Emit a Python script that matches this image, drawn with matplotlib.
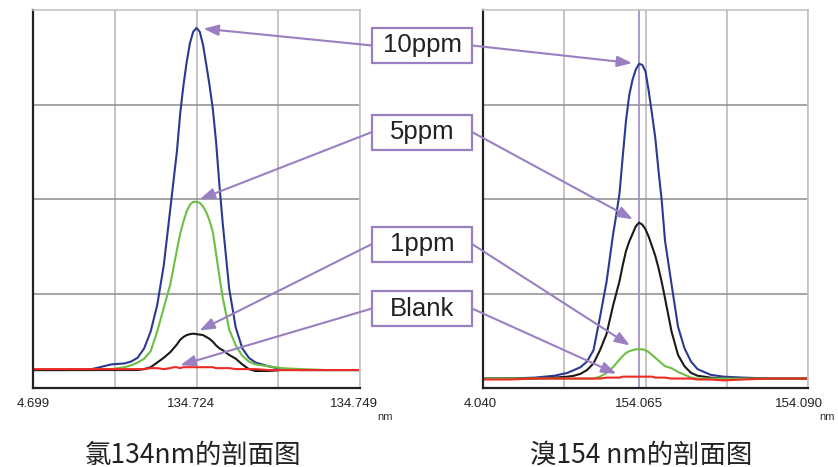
import matplotlib
matplotlib.use('Agg')
import matplotlib.pyplot as plt
from matplotlib.patches import Rectangle
from matplotlib.transforms import ScaledTranslation

plt.rcParams['font.family'] = ['Liberation Sans', 'Noto Sans CJK SC', 'DejaVu Sans']

# ---------------- Left panel: chlorine 134 nm ----------------
cl_x = [134.699, 134.704, 134.708, 134.711, 134.713, 134.714, 134.715, 134.716,
        134.717, 134.718, 134.719, 134.720, 134.7205, 134.721, 134.7215, 134.722,
        134.7225, 134.723, 134.7235, 134.724, 134.7245, 134.725, 134.7255, 134.726,
        134.7265, 134.727, 134.7275, 134.728, 134.729, 134.730, 134.731, 134.732,
        134.733, 134.735, 134.737, 134.740, 134.744, 134.749]
cl_10ppm = [0.19, 0.19, 0.20, 0.25, 0.26, 0.28, 0.32, 0.42, 0.60, 0.88, 1.30, 1.90,
            2.20, 2.50, 2.90, 3.20, 3.45, 3.65, 3.77, 3.81, 3.77, 3.63, 3.42, 3.20,
            2.95, 2.60, 2.15, 1.75, 1.05, 0.64, 0.42, 0.32, 0.27, 0.23, 0.20, 0.19,
            0.19, 0.19]
cl_5ppm = [0.19, 0.19, 0.19, 0.20, 0.22, 0.24, 0.27, 0.31, 0.39, 0.60, 0.85, 1.10,
           1.28, 1.46, 1.63, 1.76, 1.87, 1.94, 1.97, 1.97, 1.96, 1.92, 1.86, 1.77,
           1.65, 1.42, 1.18, 0.96, 0.62, 0.45, 0.34, 0.28, 0.25, 0.23, 0.21, 0.20,
           0.19, 0.19]
cl_1ppm = [0.19, 0.19, 0.19, 0.19, 0.19, 0.19, 0.19, 0.20, 0.22, 0.27, 0.32, 0.38,
           0.42, 0.46, 0.51, 0.54, 0.56, 0.57, 0.575, 0.57, 0.565, 0.56, 0.54, 0.52,
           0.49, 0.45, 0.42, 0.40, 0.35, 0.31, 0.25, 0.20, 0.18, 0.18, 0.19, 0.19,
           0.19, 0.19]
cl_blank = [0.20, 0.20, 0.20, 0.20, 0.20, 0.20, 0.20, 0.20, 0.21, 0.21, 0.20, 0.21,
            0.22, 0.22, 0.21, 0.22, 0.22, 0.22, 0.22, 0.22, 0.22, 0.22, 0.22, 0.22,
            0.22, 0.21, 0.21, 0.21, 0.21, 0.20, 0.20, 0.20, 0.20, 0.19, 0.19, 0.19,
            0.19, 0.19]
cl_ticks = [134.699, 134.7115, 134.724, 134.7365, 134.749]
cl_ticklabels = ['4.699', '', '134.724', '', '134.749']
cl_title = '氯134nm的剖面图'

# ---------------- Right panel: bromine 154 nm ----------------
br_x = [154.040, 154.044, 154.048, 154.051, 154.053, 154.054, 154.055, 154.056,
        154.057, 154.058, 154.059, 154.060, 154.0605, 154.061, 154.0615, 154.062,
        154.0625, 154.063, 154.0635, 154.064, 154.0645, 154.065, 154.0655, 154.066,
        154.0665, 154.067, 154.0675, 154.068, 154.069, 154.070, 154.071, 154.072,
        154.073, 154.075, 154.077, 154.080, 154.084, 154.090]
br_10ppm = [0.10, 0.10, 0.11, 0.13, 0.16, 0.19, 0.22, 0.28, 0.40, 0.75, 1.12, 1.62,
            1.83, 2.06, 2.45, 2.83, 3.10, 3.26, 3.37, 3.43, 3.42, 3.35, 3.14, 2.90,
            2.65, 2.30, 1.98, 1.56, 1.10, 0.65, 0.42, 0.28, 0.20, 0.14, 0.12, 0.11,
            0.10, 0.10]
br_5ppm = [0.10, 0.10, 0.10, 0.11, 0.12, 0.13, 0.15, 0.19, 0.26, 0.40, 0.57, 0.87,
           1.00, 1.13, 1.30, 1.45, 1.55, 1.63, 1.71, 1.75, 1.73, 1.68, 1.60, 1.50,
           1.40, 1.27, 1.12, 0.95, 0.60, 0.35, 0.23, 0.16, 0.13, 0.11, 0.10, 0.10,
           0.10, 0.10]
br_1ppm = [0.10, 0.10, 0.10, 0.10, 0.10, 0.10, 0.10, 0.10, 0.10, 0.12, 0.16, 0.22,
           0.26, 0.30, 0.34, 0.37, 0.39, 0.40, 0.41, 0.41, 0.41, 0.40, 0.38, 0.35,
           0.32, 0.29, 0.26, 0.23, 0.21, 0.17, 0.14, 0.11, 0.10, 0.10, 0.10, 0.10,
           0.10, 0.10]
br_blank = [0.09, 0.09, 0.10, 0.10, 0.10, 0.10, 0.10, 0.10, 0.10, 0.10, 0.11, 0.11,
            0.11, 0.11, 0.12, 0.12, 0.12, 0.12, 0.12, 0.12, 0.12, 0.12, 0.12, 0.12,
            0.11, 0.11, 0.11, 0.11, 0.10, 0.10, 0.10, 0.10, 0.09, 0.09, 0.08, 0.09,
            0.10, 0.10]
br_marker = 154.0640
br_ticks = [154.040, 154.0525, 154.065, 154.0775, 154.090]
br_ticklabels = ['4.040', '', '154.065', '', '154.090']
br_title = '溴154 nm的剖面图'

labels = ['10ppm', '5ppm', '1ppm', 'Blank']
label_y = [0.9026, 0.7173, 0.4775, 0.3394]   # box centres (figure fraction)

NAVY = '#2b3990'
GREEN = '#6cbf45'
BLACK = '#1a1a1a'
RED = '#ee2a24'
PURPLE = '#9a7fc2'

fig = plt.figure(figsize=(8.38, 4.67), dpi=100)
axL = fig.add_axes([33 / 838, 79 / 467, 327 / 838, 378 / 467])
axR = fig.add_axes([483 / 838, 79 / 467, 325 / 838, 378 / 467])


def style(ax, x, ticks, ticklabels, shifts, nm_x):
    ax.set_xlim(x[0], x[-1])
    ax.set_ylim(0, 4)
    ax.set_xticks(ticks)
    ax.set_xticklabels(ticklabels)
    ax.set_yticks([1, 2, 3])
    ax.set_yticklabels([])
    ax.tick_params(length=0)
    ax.tick_params(axis='x', pad=7, labelsize=9.5, colors='#222222')
    ax.xaxis.grid(True, color='#b4b4b4', lw=1.1)
    ax.yaxis.grid(True, color='#8c8c8c', lw=1.1)
    ax.set_axisbelow(True)
    for s in ['top', 'right']:
        ax.spines[s].set_color('#c4c4c4')
        ax.spines[s].set_linewidth(1.2)
    for s in ['left', 'bottom']:
        ax.spines[s].set_color('#222222')
        ax.spines[s].set_linewidth(1.6)
    for lab, dx in zip(ax.get_xticklabels(), shifts):
        lab.set_transform(lab.get_transform() +
                          ScaledTranslation(dx / 100, 0, fig.dpi_scale_trans))
    ax.text(nm_x, -0.077, 'nm', transform=ax.transAxes, ha='center',
            va='center', fontsize=8, color='#333333')


style(axL, cl_x, cl_ticks, cl_ticklabels, [0, 0, -6, 0, -6], 1.076)
style(axR, br_x, br_ticks, br_ticklabels, [-3, 0, -7, 0, -9], 1.058)

axR.axvline(br_marker, color='#a591cc', lw=1.3, zorder=1.5)

kw = dict(lw=1.5, solid_joinstyle='round', solid_capstyle='round')
axL.plot(cl_x, cl_10ppm, color=NAVY, **kw)
axL.plot(cl_x, cl_5ppm, color=GREEN, **kw)
axL.plot(cl_x, cl_1ppm, color=BLACK, **kw)
axL.plot(cl_x, cl_blank, color=RED, **kw)

axR.plot(br_x, br_10ppm, color=NAVY, **kw)
axR.plot(br_x, br_5ppm, color=BLACK, **kw)
axR.plot(br_x, br_1ppm, color=GREEN, **kw)
axR.plot(br_x, br_blank, color=RED, **kw)

fig.text(193 / 838, 1 - 455 / 467, cl_title, ha='center', va='center',
         fontsize=19, family=['Noto Sans CJK SC', 'DejaVu Sans'], color='#222222')
fig.text(641 / 838, 1 - 455 / 467, br_title, ha='center', va='center',
         fontsize=19, family=['Noto Sans CJK SC', 'DejaVu Sans'], color='#222222')

# label boxes
box_w = 100 / 838
box_h = 35 / 467
box_x0 = 372 / 838
for lab, yc in zip(labels, label_y):
    fig.add_artist(Rectangle((box_x0, yc - box_h / 2), box_w, box_h,
                             transform=fig.transFigure, facecolor='white',
                             edgecolor=PURPLE, lw=1.6, zorder=5))
    fig.text(box_x0 + box_w / 2, yc, lab, ha='center', va='center',
             fontsize=18.5, color='#222222', zorder=6)

# arrows from boxes to peak tops
left_series = [cl_10ppm, cl_5ppm, cl_1ppm, cl_blank]
right_series = [br_10ppm, br_5ppm, br_1ppm, br_blank]
arrowprops = dict(arrowstyle='-|>,head_length=0.9,head_width=0.33',
                  mutation_scale=10, color=PURPLE, lw=1.5, shrinkA=0, shrinkB=5)
for ser, yc in zip(left_series, label_y):
    i = max(range(len(ser)), key=lambda k: ser[k])
    axL.annotate('', xy=(cl_x[i], ser[i]), xycoords='data',
                 xytext=(box_x0, yc), textcoords='figure fraction',
                 arrowprops=arrowprops, annotation_clip=False)
for ser, yc in zip(right_series, label_y):
    i = max(range(len(ser)), key=lambda k: ser[k])
    axR.annotate('', xy=(br_x[i], ser[i]), xycoords='data',
                 xytext=(box_x0 + box_w, yc), textcoords='figure fraction',
                 arrowprops=arrowprops, annotation_clip=False)

fig.savefig('out.png', dpi=100)
